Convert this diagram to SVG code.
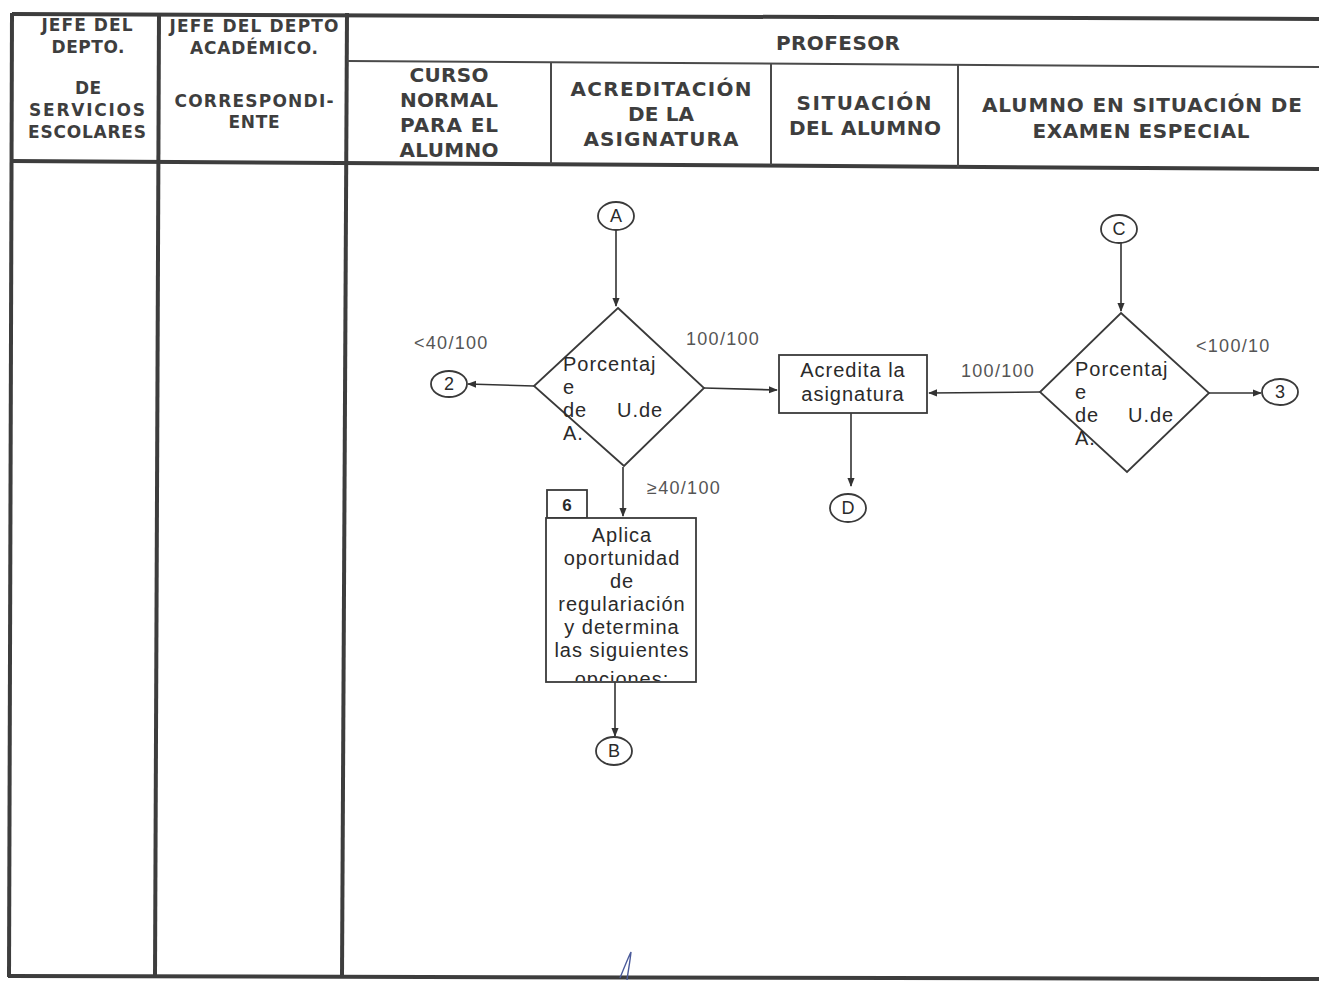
<svg xmlns="http://www.w3.org/2000/svg" width="1319" height="983" viewBox="0 0 1319 983">
<defs>
<marker id="arr" viewBox="0 0 10 10" refX="9" refY="5" markerWidth="9" markerHeight="9" markerUnits="userSpaceOnUse" orient="auto">
<path d="M0,1 L10,5 L0,9 Z" fill="#333"/>
</marker>
<clipPath id="clipBox"><rect x="547" y="519" width="148" height="162"/></clipPath>
<style>
.frame{stroke:#3d3d3d;stroke-width:4;fill:none}
.thin{stroke:#4a4a4a;stroke-width:2;fill:none}
.hd{font-family:"DejaVu Sans",Verdana,sans-serif;font-weight:bold;fill:#3e3e3e;text-anchor:middle}
.h15{font-size:17px}
.h17{font-size:20px}
.shape{stroke:#3a3a3a;stroke-width:1.8;fill:#fff}
.conn{stroke:#333;stroke-width:1.6;fill:none;marker-end:url(#arr)}
.t{font-family:"Liberation Sans",Arial,sans-serif;font-size:20px;fill:#2a2a2a;letter-spacing:1px}
.tc{text-anchor:middle}
.lbl{font-family:"Liberation Sans",Arial,sans-serif;font-size:18px;fill:#555;letter-spacing:1.3px}
.cl{font-family:"Liberation Sans",Arial,sans-serif;font-size:18px;fill:#2a2a2a;text-anchor:middle}
</style>
</defs>
<rect width="1319" height="983" fill="#fff"/>

<g id="table">
<line class="frame" x1="12" y1="14" x2="1319" y2="19"/>
<line class="frame" x1="12" y1="13" x2="9" y2="977"/>
<line class="frame" x1="159" y1="13" x2="155" y2="977"/>
<line class="frame" x1="347" y1="13" x2="342" y2="977"/>
<line class="frame" x1="8" y1="976" x2="1319" y2="979"/>
<line class="frame" x1="11" y1="161" x2="1319" y2="169"/>
<line class="thin" x1="347" y1="61" x2="1319" y2="67"/>
<line class="thin" x1="551" y1="62" x2="551" y2="164"/>
<line class="thin" x1="771" y1="63" x2="771" y2="165"/>
<line class="thin" x1="958" y1="65" x2="958" y2="167"/>
</g>

<g id="headers">
<text class="hd h15" x="87" y="31" textLength="91">JEFE DEL</text>
<text class="hd h15" x="88" y="53" textLength="73">DEPTO.</text>
<text class="hd h15" x="88" y="94" textLength="26">DE</text>
<text class="hd h15" x="87" y="116" textLength="116">SERVICIOS</text>
<text class="hd h15" x="87" y="138" textLength="118">ESCOLARES</text>
<text class="hd h15" x="254" y="32" textLength="169">JEFE DEL DEPTO</text>
<text class="hd h15" x="254" y="54" textLength="128">ACADÉMICO.</text>
<text class="hd h15" x="254" y="107" textLength="159">CORRESPONDI-</text>
<text class="hd h15" x="254" y="128" textLength="51">ENTE</text>
<text class="hd h17" x="838" y="50" textLength="124">PROFESOR</text>
<text class="hd h17" x="449" y="82" textLength="79">CURSO</text>
<text class="hd h17" x="449" y="107" textLength="98">NORMAL</text>
<text class="hd h17" x="449" y="132" textLength="98">PARA EL</text>
<text class="hd h17" x="449" y="157" textLength="99">ALUMNO</text>
<text class="hd h17" x="661" y="96" textLength="181">ACREDITACIÓN</text>
<text class="hd h17" x="661" y="121" textLength="66">DE LA</text>
<text class="hd h17" x="661" y="146" textLength="155">ASIGNATURA</text>
<text class="hd h17" x="864" y="110" textLength="135">SITUACIÓN</text>
<text class="hd h17" x="865" y="135" textLength="152">DEL ALUMNO</text>
<text class="hd h17" x="1142" y="112" textLength="320">ALUMNO EN SITUACIÓN DE</text>
<text class="hd h17" x="1141" y="138" textLength="217">EXAMEN ESPECIAL</text>
</g>

<g id="connectors">
<line class="conn" x1="616" y1="230" x2="616" y2="306"/>
<line class="conn" x1="534" y1="386" x2="468" y2="384"/>
<line class="conn" x1="704" y1="388" x2="777" y2="390"/>
<line class="conn" x1="623" y1="467" x2="623" y2="516"/>
<line class="conn" x1="851" y1="413" x2="851" y2="486"/>
<line class="conn" x1="1121" y1="243" x2="1121" y2="311"/>
<line class="conn" x1="1040" y1="392" x2="929" y2="393"/>
<line class="conn" x1="1209" y1="393" x2="1261" y2="393"/>
<line class="conn" x1="615" y1="682" x2="615" y2="736"/>
</g>

<g id="nodeA"><ellipse class="shape" cx="616" cy="216" rx="18" ry="14"/><text class="cl" x="616" y="222">A</text></g>
<g id="node2"><ellipse class="shape" cx="449" cy="384" rx="18" ry="13"/><text class="cl" x="449" y="390">2</text></g>
<g id="nodeC"><ellipse class="shape" cx="1119" cy="229" rx="18" ry="14"/><text class="cl" x="1119" y="235">C</text></g>
<g id="node3"><ellipse class="shape" cx="1280" cy="392" rx="18" ry="13"/><text class="cl" x="1280" y="398">3</text></g>
<g id="nodeD"><ellipse class="shape" cx="848" cy="508" rx="18" ry="14"/><text class="cl" x="848" y="514">D</text></g>
<g id="nodeB"><ellipse class="shape" cx="614" cy="751" rx="18" ry="14"/><text class="cl" x="614" y="757">B</text></g>

<g id="decision1">
<polygon class="shape" points="618,308 704,388 624,466 534,386" style="fill:none"/>
<text class="t" x="563" y="371">Porcentaj</text>
<text class="t" x="563" y="394">e</text>
<text class="t" y="417"><tspan x="563">de</tspan><tspan x="617">U.de</tspan></text>
<text class="t" x="563" y="440">A.</text>
</g>

<g id="decision2">
<polygon class="shape" points="1121,313 1209,393 1127,472 1040,392" style="fill:none"/>
<text class="t" x="1075" y="376">Porcentaj</text>
<text class="t" x="1075" y="399">e</text>
<text class="t" y="422"><tspan x="1075">de</tspan><tspan x="1128">U.de</tspan></text>
<text class="t" x="1075" y="445">A.</text>
</g>

<g id="acredita">
<rect class="shape" x="779" y="355" width="148" height="58"/>
<text class="t tc" x="853" y="377">Acredita la</text>
<text class="t tc" x="853" y="401">asignatura</text>
</g>

<g id="step6">
<rect class="shape" x="547" y="490" width="40" height="28"/>
<text class="cl" x="567" y="511" style="font-weight:bold;font-size:17px">6</text>
<rect class="shape" x="546" y="518" width="150" height="164"/>
<g clip-path="url(#clipBox)">
<text class="t tc" x="622" y="542">Aplica</text>
<text class="t tc" x="622" y="565">oportunidad</text>
<text class="t tc" x="622" y="588">de</text>
<text class="t tc" x="622" y="611">regulariación</text>
<text class="t tc" x="622" y="634">y determina</text>
<text class="t tc" x="622" y="657">las siguientes</text>
<text class="t tc" x="622" y="686">opciones:</text>
</g>
</g>

<g id="labels">
<text class="lbl" x="414" y="349">&lt;40/100</text>
<text class="lbl" x="686" y="345">100/100</text>
<text class="lbl" x="647" y="494">≥40/100</text>
<text class="lbl" x="961" y="377">100/100</text>
<text class="lbl" x="1196" y="352">&lt;100/10</text>
</g>

<path d="M620,978 C624,968 628,958 631,952 C630,962 628,972 627,980" stroke="#4a5a9a" stroke-width="1.4" fill="none"/>
</svg>
